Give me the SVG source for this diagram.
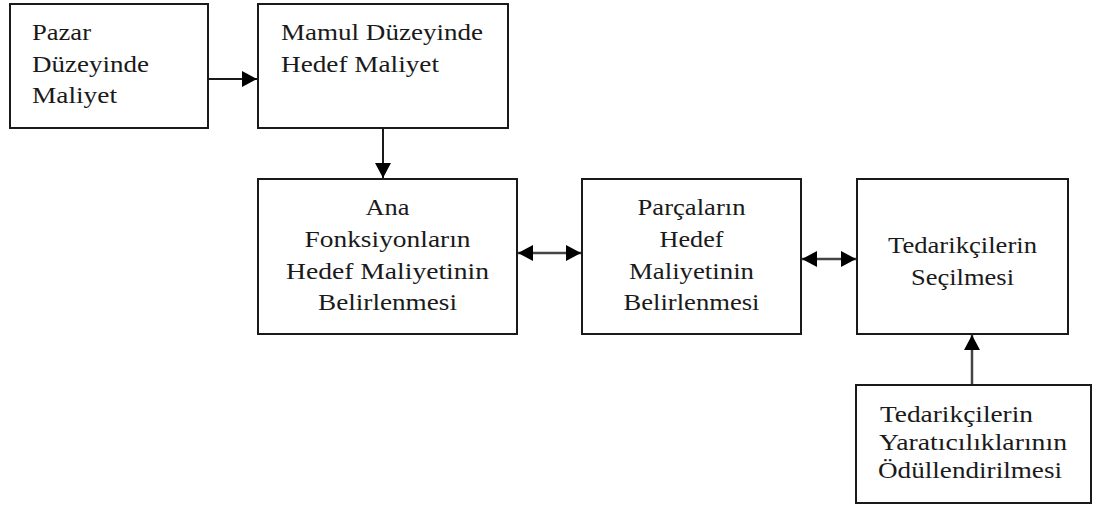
<svg xmlns="http://www.w3.org/2000/svg" width="1097" height="507" viewBox="0 0 1097 507">
<style>
.box{fill:#fff;stroke:#1a1a1a;stroke-width:2}
.t{font-family:"Liberation Serif","Times New Roman",serif;font-size:23px;fill:#1a1a1a}
.c{text-anchor:middle}
.con{stroke:#1a1a1a;stroke-width:2;fill:none}
.con2{stroke:#444;stroke-width:2.5;fill:none}
</style>
<defs>
<marker id="ah" viewBox="0 0 15 16" markerWidth="15" markerHeight="16" refX="15" refY="8" orient="auto-start-reverse" markerUnits="userSpaceOnUse">
<path d="M0,0 L15,8 L0,16 Z" fill="#000"/>
</marker>
</defs>
<rect width="1097" height="507" fill="#fff"/>
<g id="connectors">
<line class="con" x1="208" y1="79" x2="257" y2="79" marker-end="url(#ah)"/>
<line class="con" x1="383" y1="128" x2="383" y2="178" marker-end="url(#ah)"/>
<line class="con2" x1="518" y1="253" x2="581" y2="253" marker-start="url(#ah)" marker-end="url(#ah)"/>
<line class="con2" x1="802" y1="259" x2="856" y2="259" marker-start="url(#ah)" marker-end="url(#ah)"/>
<line class="con2" x1="972" y1="385" x2="972" y2="335" marker-end="url(#ah)"/>
</g>
<g id="n1">
<rect class="box" x="10" y="4" width="198" height="124"/>
<text class="t" x="32" y="40" textLength="59" lengthAdjust="spacingAndGlyphs">Pazar</text>
<text class="t" x="32" y="72" textLength="117" lengthAdjust="spacingAndGlyphs">Düzeyinde</text>
<text class="t" x="32" y="103" textLength="85" lengthAdjust="spacingAndGlyphs">Maliyet</text>
</g>
<g id="n2">
<rect class="box" x="258" y="4" width="250" height="124"/>
<text class="t" x="281" y="40" textLength="202" lengthAdjust="spacingAndGlyphs">Mamul Düzeyinde</text>
<text class="t" x="281" y="72" textLength="158" lengthAdjust="spacingAndGlyphs">Hedef Maliyet</text>
</g>
<g id="n3">
<rect class="box" x="258" y="179" width="259" height="155"/>
<text class="t c" x="387.5" y="215" textLength="44" lengthAdjust="spacingAndGlyphs">Ana</text>
<text class="t c" x="387.5" y="247" textLength="166" lengthAdjust="spacingAndGlyphs">Fonksiyonların</text>
<text class="t c" x="387.5" y="279" textLength="203" lengthAdjust="spacingAndGlyphs">Hedef Maliyetinin</text>
<text class="t c" x="387.5" y="310" textLength="139" lengthAdjust="spacingAndGlyphs">Belirlenmesi</text>
</g>
<g id="n4">
<rect class="box" x="582" y="179" width="219" height="155"/>
<text class="t c" x="691.5" y="215" textLength="108" lengthAdjust="spacingAndGlyphs">Parçaların</text>
<text class="t c" x="691.5" y="247" textLength="64" lengthAdjust="spacingAndGlyphs">Hedef</text>
<text class="t c" x="691.5" y="279" textLength="125" lengthAdjust="spacingAndGlyphs">Maliyetinin</text>
<text class="t c" x="691.5" y="310" textLength="136" lengthAdjust="spacingAndGlyphs">Belirlenmesi</text>
</g>
<g id="n5">
<rect class="box" x="857" y="179" width="211" height="155"/>
<text class="t c" x="962.5" y="253" textLength="149" lengthAdjust="spacingAndGlyphs">Tedarikçilerin</text>
<text class="t c" x="962.5" y="285" textLength="103" lengthAdjust="spacingAndGlyphs">Seçilmesi</text>
</g>
<g id="n6">
<rect class="box" x="856" y="385" width="235" height="118"/>
<text class="t" x="880" y="422" textLength="153" lengthAdjust="spacingAndGlyphs">Tedarikçilerin</text>
<text class="t" x="879" y="450" textLength="188" lengthAdjust="spacingAndGlyphs">Yaratıcılıklarının</text>
<text class="t" x="878" y="478" textLength="184" lengthAdjust="spacingAndGlyphs">Ödüllendirilmesi</text>
</g>
</svg>
